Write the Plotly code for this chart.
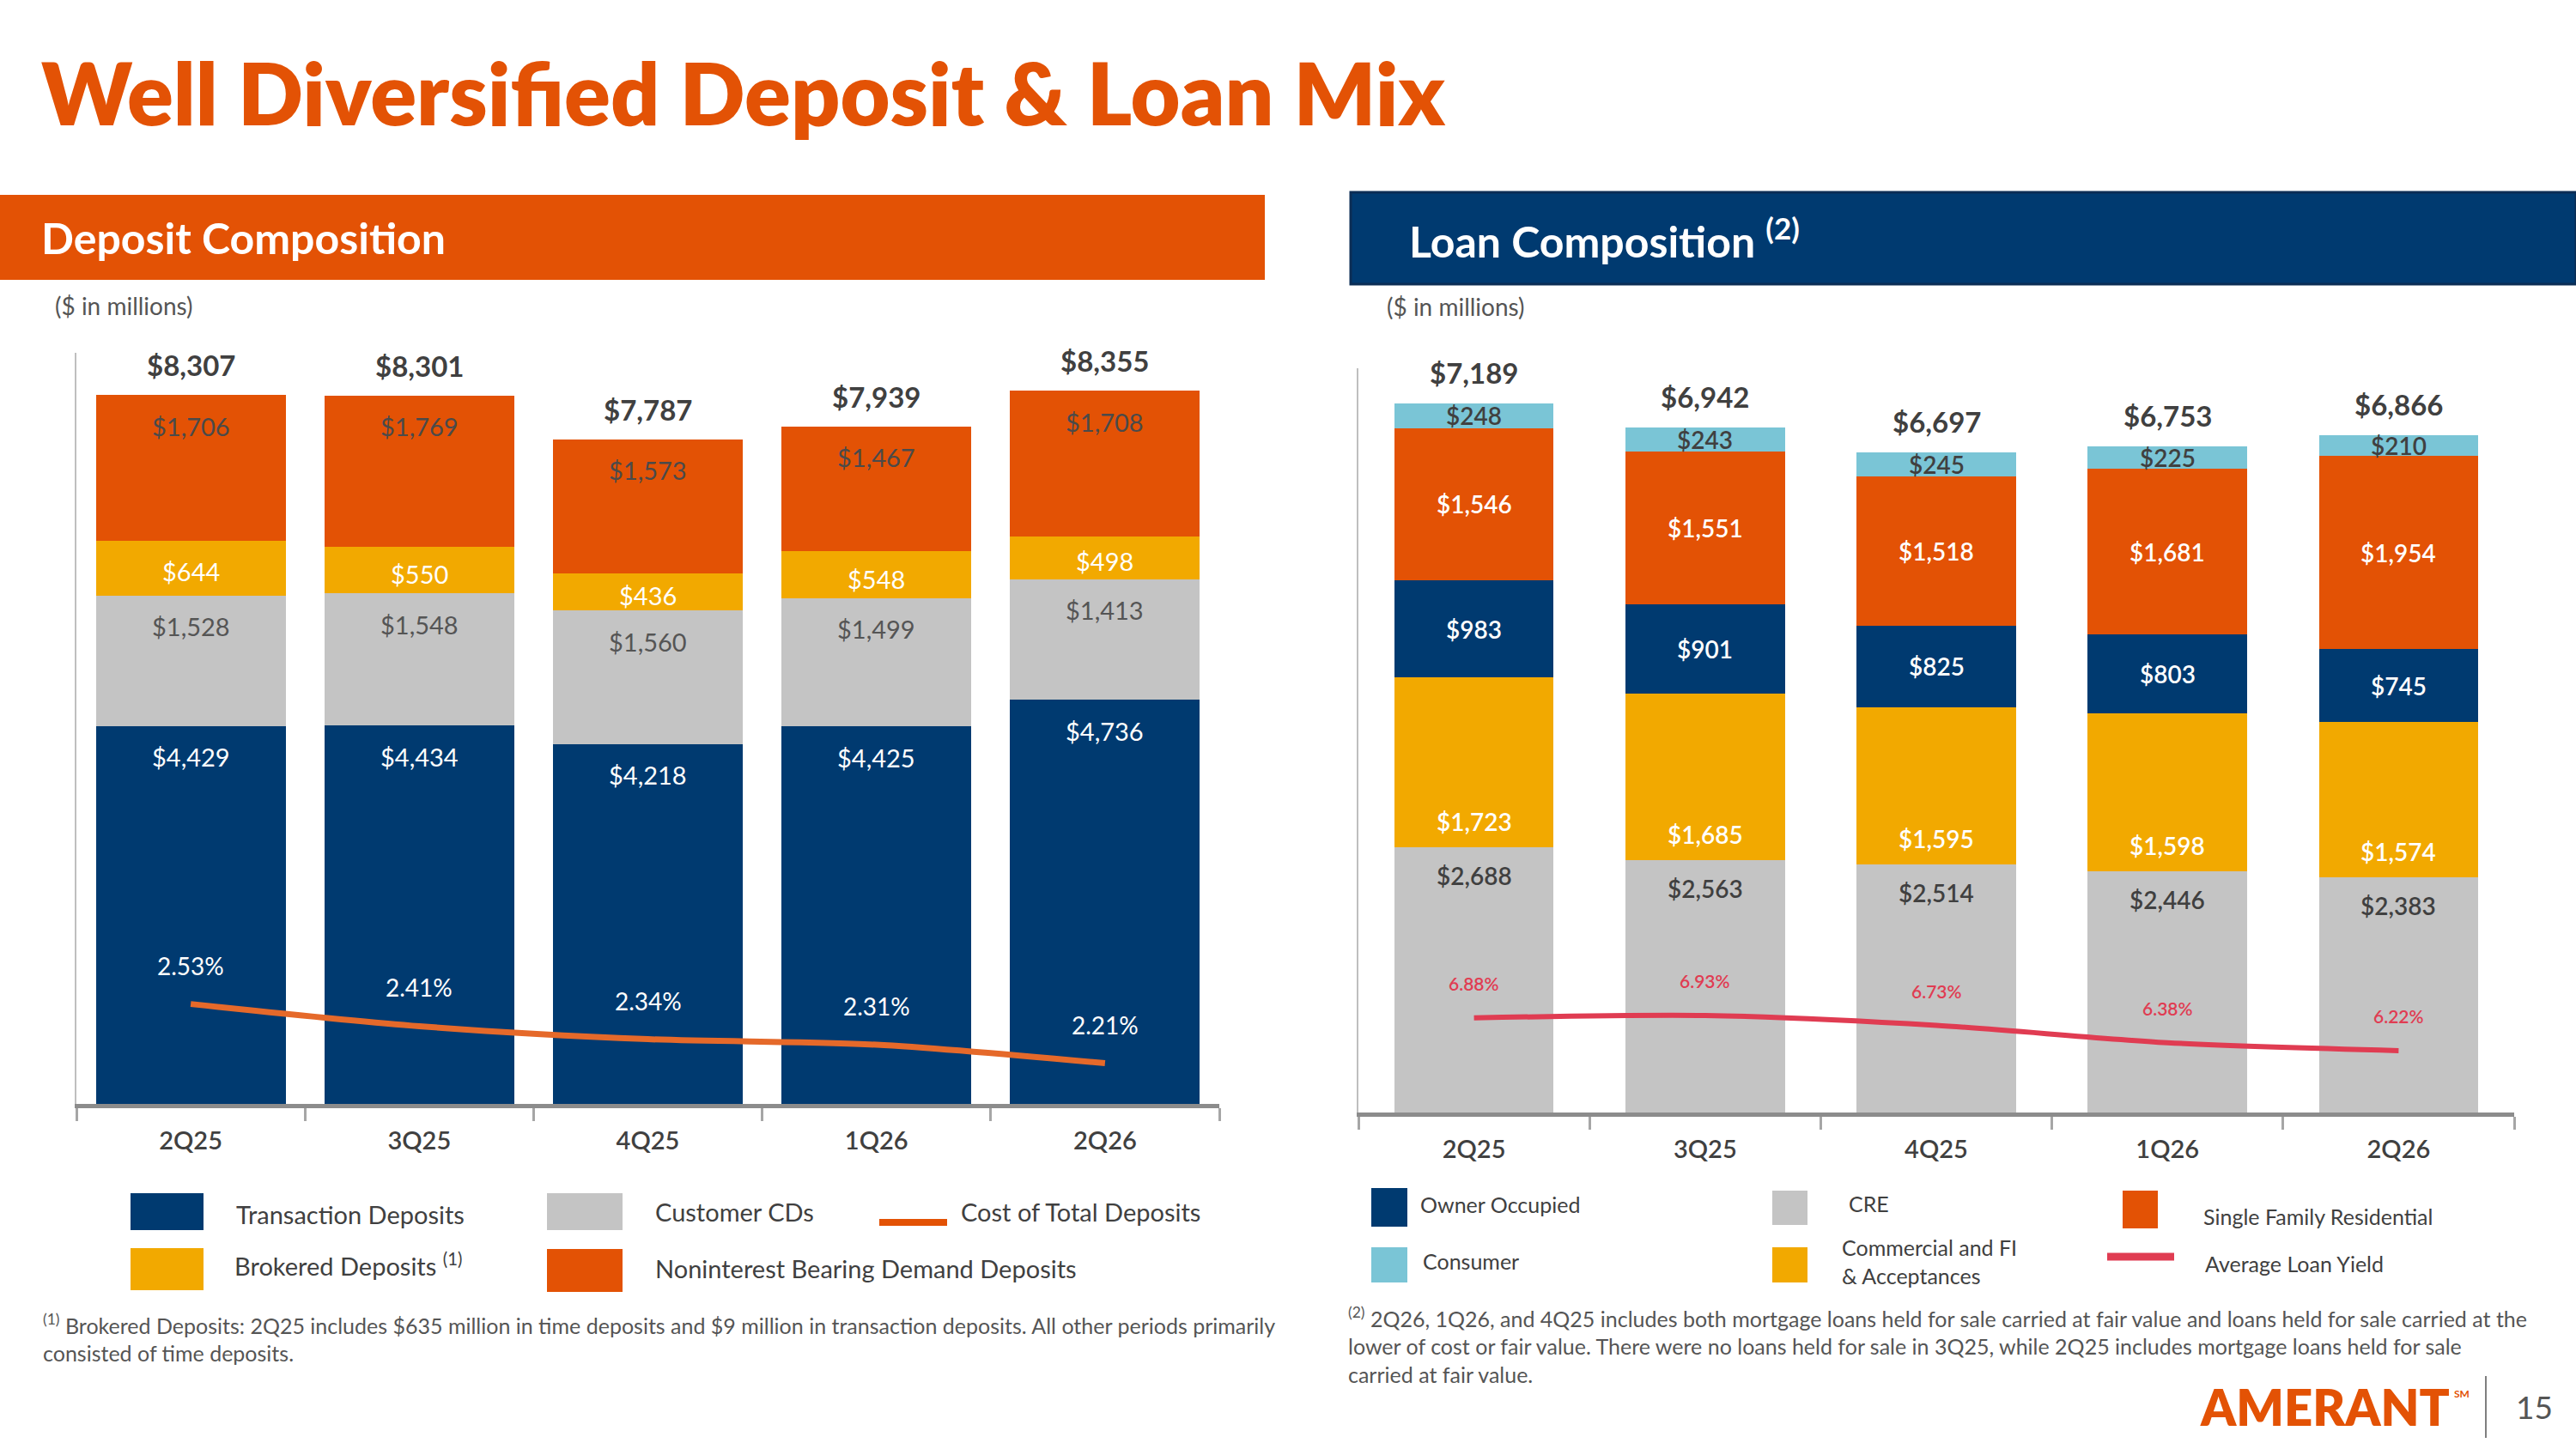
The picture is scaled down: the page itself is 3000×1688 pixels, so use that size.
import plotly.graph_objects as go

W, H = 3000, 1688

quarters = ["2Q25", "3Q25", "4Q25", "1Q26", "2Q26"]

# deposit composition ($ in millions)
transaction_deposits = [4429, 4434, 4218, 4425, 4736]
customer_cds = [1528, 1548, 1560, 1499, 1413]
brokered_deposits = [644, 550, 436, 548, 498]
nib_demand_deposits = [1706, 1769, 1573, 1467, 1708]
total_deposits = [8307, 8301, 7787, 7939, 8355]
cost_of_deposits = [2.53, 2.41, 2.34, 2.31, 2.21]

# loan composition ($ in millions)
cre_loans = [2688, 2563, 2514, 2446, 2383]
commercial_fi = [1723, 1685, 1595, 1598, 1574]
owner_occupied = [983, 901, 825, 803, 745]
single_family = [1546, 1551, 1518, 1681, 1954]
consumer_loans = [248, 243, 245, 225, 210]
total_loans = [7189, 6942, 6697, 6753, 6866]
avg_loan_yield = [6.88, 6.93, 6.73, 6.38, 6.22]

NAVY = "#003A70"
ORANGE = "#E35205"
GRAY = "#C4C4C4"
GOLD = "#F2A900"
SKY = "#7AC5D6"
RED = "#E03C52"
LINE_ORANGE = "#E5692A"
TEXT = "#404040"
LBL = "#555555"
FONT = "Lato"


def px(x):
    return x / W


def py(y):
    return 1 - y / H


def fmt(v):
    return "${:,}".format(v)


# plot boxes in pixels
DEP_X = (89, 1420)
DEP_Y = (411, 1286)
DEP_MAX = 8800
LOAN_X = (1582, 2928)
LOAN_Y = (429, 1296)
LOAN_MAX = 7546

dep_ppu = (DEP_Y[1] - DEP_Y[0]) / DEP_MAX

fig = go.Figure()

dep_series = [
    ("Transaction Deposits", transaction_deposits, NAVY, "white"),
    ("Customer CDs", customer_cds, GRAY, LBL),
    ("Brokered Deposits", brokered_deposits, GOLD, "white"),
    ("Noninterest Bearing Demand Deposits", nib_demand_deposits, ORANGE, "#4A4A4A"),
]
loan_series = [
    ("CRE", cre_loans, GRAY, TEXT),
    ("Commercial and FI & Acceptances", commercial_fi, GOLD, "white"),
    ("Owner Occupied", owner_occupied, NAVY, "white"),
    ("Single Family Residential", single_family, ORANGE, "white"),
    ("Consumer", consumer_loans, SKY, TEXT),
]

annotations = []

base = [0] * 5
for name, vals, color, lc in dep_series:
    fig.add_trace(go.Bar(x=quarters, y=vals, name=name, marker_color=color,
                         marker_line_width=0, width=0.83, xaxis="x", yaxis="y",
                         showlegend=False, hoverinfo="skip"))
    for i, v in enumerate(vals):
        top = base[i] + v
        shift = min(36, 0.58 * v * dep_ppu)
        annotations.append(dict(x=quarters[i], y=top, xref="x", yref="y", yshift=-shift,
                                text=fmt(v), showarrow=False, yanchor="middle",
                                font=dict(family=FONT, size=29, color=lc)))
        base[i] = top

for i, t in enumerate(total_deposits):
    annotations.append(dict(x=quarters[i], y=t, xref="x", yref="y", yshift=35,
                            text=fmt(t), showarrow=False, yanchor="middle",
                            font=dict(family=FONT, size=33, color=TEXT, weight=700)))

fig.add_trace(go.Scatter(x=quarters, y=cost_of_deposits, mode="lines", xaxis="x", yaxis="y3",
                         line=dict(color=LINE_ORANGE, width=7, shape="spline", smoothing=0.8),
                         showlegend=False, hoverinfo="skip"))
for i, v in enumerate(cost_of_deposits):
    annotations.append(dict(x=quarters[i], y=v, xref="x", yref="y3", yshift=45,
                            text="{:.2f}%".format(v), showarrow=False, yanchor="middle",
                            font=dict(family=FONT, size=28, color="white")))

base = [0] * 5
for k, (name, vals, color, lc) in enumerate(loan_series):
    fig.add_trace(go.Bar(x=quarters, y=vals, name=name, marker_color=color,
                         marker_line_width=0, width=0.69, xaxis="x2", yaxis="y2",
                         showlegend=False, hoverinfo="skip"))
    for i, v in enumerate(vals):
        if k == 0:
            y, shift = base[i] + v, -33
        elif k == 1:
            y, shift = base[i], 30
        else:
            y, shift = base[i] + v / 2, 0
        annotations.append(dict(x=quarters[i], y=y, xref="x2", yref="y2", yshift=shift,
                                text=fmt(v), showarrow=False, yanchor="middle",
                                font=dict(family=FONT, size=28, color=lc, weight=600)))
        base[i] += v

for i, t in enumerate(total_loans):
    annotations.append(dict(x=quarters[i], y=base[i], xref="x2", yref="y2", yshift=36,
                            text=fmt(t), showarrow=False, yanchor="middle",
                            font=dict(family=FONT, size=33, color=TEXT, weight=700)))

fig.add_trace(go.Scatter(x=quarters, y=avg_loan_yield, mode="lines", xaxis="x2", yaxis="y4",
                         line=dict(color=RED, width=6, shape="spline", smoothing=0.8),
                         showlegend=False, hoverinfo="skip"))
for i, v in enumerate(avg_loan_yield):
    annotations.append(dict(x=quarters[i], y=v, xref="x2", yref="y4", yshift=40,
                            text="{:.2f}%".format(v), showarrow=False, yanchor="middle",
                            font=dict(family=FONT, size=21, color=RED, weight=600)))


def text(x, y, s, size, color=TEXT, weight=400, anchor="left"):
    annotations.append(dict(x=px(x), y=py(y), xref="paper", yref="paper", text=s,
                            showarrow=False, xanchor=anchor, yanchor="middle", align="left",
                            font=dict(family=FONT, size=size, color=color, weight=weight)))


shapes = []


def box(x0, y0, x1, y1, color, line=None):
    shapes.append(dict(type="rect", xref="paper", yref="paper", x0=px(x0), x1=px(x1),
                       y0=py(y1), y1=py(y0), fillcolor=color,
                       line=dict(width=3 if line else 0, color=line or color)))


def hline(x0, x1, y, color, width):
    shapes.append(dict(type="line", xref="paper", yref="paper", x0=px(x0), x1=px(x1),
                       y0=py(y), y1=py(y), line=dict(color=color, width=width)))


# title and section headers
text(46, 107, "Well Diversified Deposit & Loan Mix", 100, ORANGE, 800)
box(0, 227, 1473, 326, ORANGE)
box(1573, 224, 3000, 331, NAVY, "#0B2D55")
text(46, 277, "Deposit Composition", 50, "white", 700)
text(1639, 277, "Loan Composition <sup>(2)</sup>", 50, "white", 700)
text(62, 356, "($ in millions)", 28, LBL)
text(1613, 357, "($ in millions)", 28, LBL)

# deposit legend
box(152, 1390, 237, 1433, NAVY)
text(273, 1414, "Transaction Deposits", 29)
box(637, 1390, 725, 1433, GRAY)
text(761, 1411, "Customer CDs", 29)
hline(1024, 1103, 1424, ORANGE, 8)
text(1117, 1411, "Cost of Total Deposits", 29)
box(152, 1454, 237, 1503, GOLD)
text(271, 1473, "Brokered Deposits <sup>(1)</sup>", 29)
box(637, 1455, 725, 1505, ORANGE)
text(761, 1477, "Noninterest Bearing Demand Deposits", 29)

# loan legend
box(1597, 1384, 1639, 1429, NAVY)
box(2064, 1387, 2105, 1427, GRAY)
box(2472, 1387, 2513, 1431, ORANGE)
box(1597, 1453, 1639, 1494, SKY)
box(2064, 1453, 2105, 1494, GOLD)
hline(2454, 2532, 1464, RED, 9)
text(1652, 1403, "Owner Occupied", 25)
text(2151, 1402, "CRE", 25)
text(2564, 1417, "Single Family Residential", 25)
text(1655, 1469, "Consumer", 25)
text(2143, 1469, "Commercial and FI<br>& Acceptances", 25)
text(2566, 1472, "Average Loan Yield", 25)

# footnotes
text(48, 1558, "<sup>(1)</sup> Brokered Deposits: 2Q25 includes $635 million in time deposits and "
     "$9 million in transaction deposits. All other periods primarily<br>consisted of time deposits.",
     25, LBL)
text(1568, 1567, "<sup>(2)</sup> 2Q26, 1Q26, and 4Q25 includes both mortgage loans held for sale carried "
     "at fair value and loans held for sale carried at the<br>lower of cost or fair value. There were "
     "no loans held for sale in 3Q25, while 2Q25 includes mortgage loans held for sale<br>"
     "carried at fair value.", 25, LBL)

# footer
text(2560, 1638, "AMERANT", 58, ORANGE, 800)
text(2856, 1623, "SM", 12, ORANGE, 700)
shapes.append(dict(type="line", xref="paper", yref="paper", x0=px(2895), x1=px(2895),
                   y0=py(1675), y1=py(1603), line=dict(color="#7F7F7F", width=2)))
text(2928, 1638, "15", 37, LBL)

xax = dict(type="category", range=[-0.5, 4.5], showline=True, linecolor="#8C8C8C", linewidth=5,
           ticks="outside", tickson="boundaries", ticklen=15, tickwidth=3, tickcolor="#A6A6A6",
           ticklabelstandoff=13,
           tickfont=dict(family=FONT, size=29, color=TEXT, weight=600), showgrid=False,
           zeroline=False, fixedrange=True)
yax = dict(showline=True, linecolor="#BFBFBF", linewidth=2, showticklabels=False, ticks="",
           showgrid=False, zeroline=False, fixedrange=True)

fig.update_layout(
    width=W, height=H, margin=dict(l=0, r=0, t=0, b=0),
    paper_bgcolor="white", plot_bgcolor="white",
    barmode="stack",
    font=dict(family=FONT, color=TEXT),
    xaxis=dict(xax, domain=[px(DEP_X[0]), px(DEP_X[1])], anchor="y"),
    yaxis=dict(yax, domain=[py(DEP_Y[1]), py(DEP_Y[0])], range=[0, DEP_MAX], anchor="x"),
    yaxis3=dict(overlaying="y", anchor="x", range=[1.99, 6.05], visible=False),
    xaxis2=dict(xax, domain=[px(LOAN_X[0]), px(LOAN_X[1])], anchor="y2"),
    yaxis2=dict(yax, domain=[py(LOAN_Y[1]), py(LOAN_Y[0])], range=[0, LOAN_MAX], anchor="x2"),
    yaxis4=dict(overlaying="y2", anchor="x2", range=[4.97, 20.0], visible=False),
    annotations=annotations,
    shapes=shapes,
)

# page margin off so the figure sits at the window corner
fig.write_html("out.html", config={"displayModeBar": False},
               post_script="document.body.style.margin='0px';")
